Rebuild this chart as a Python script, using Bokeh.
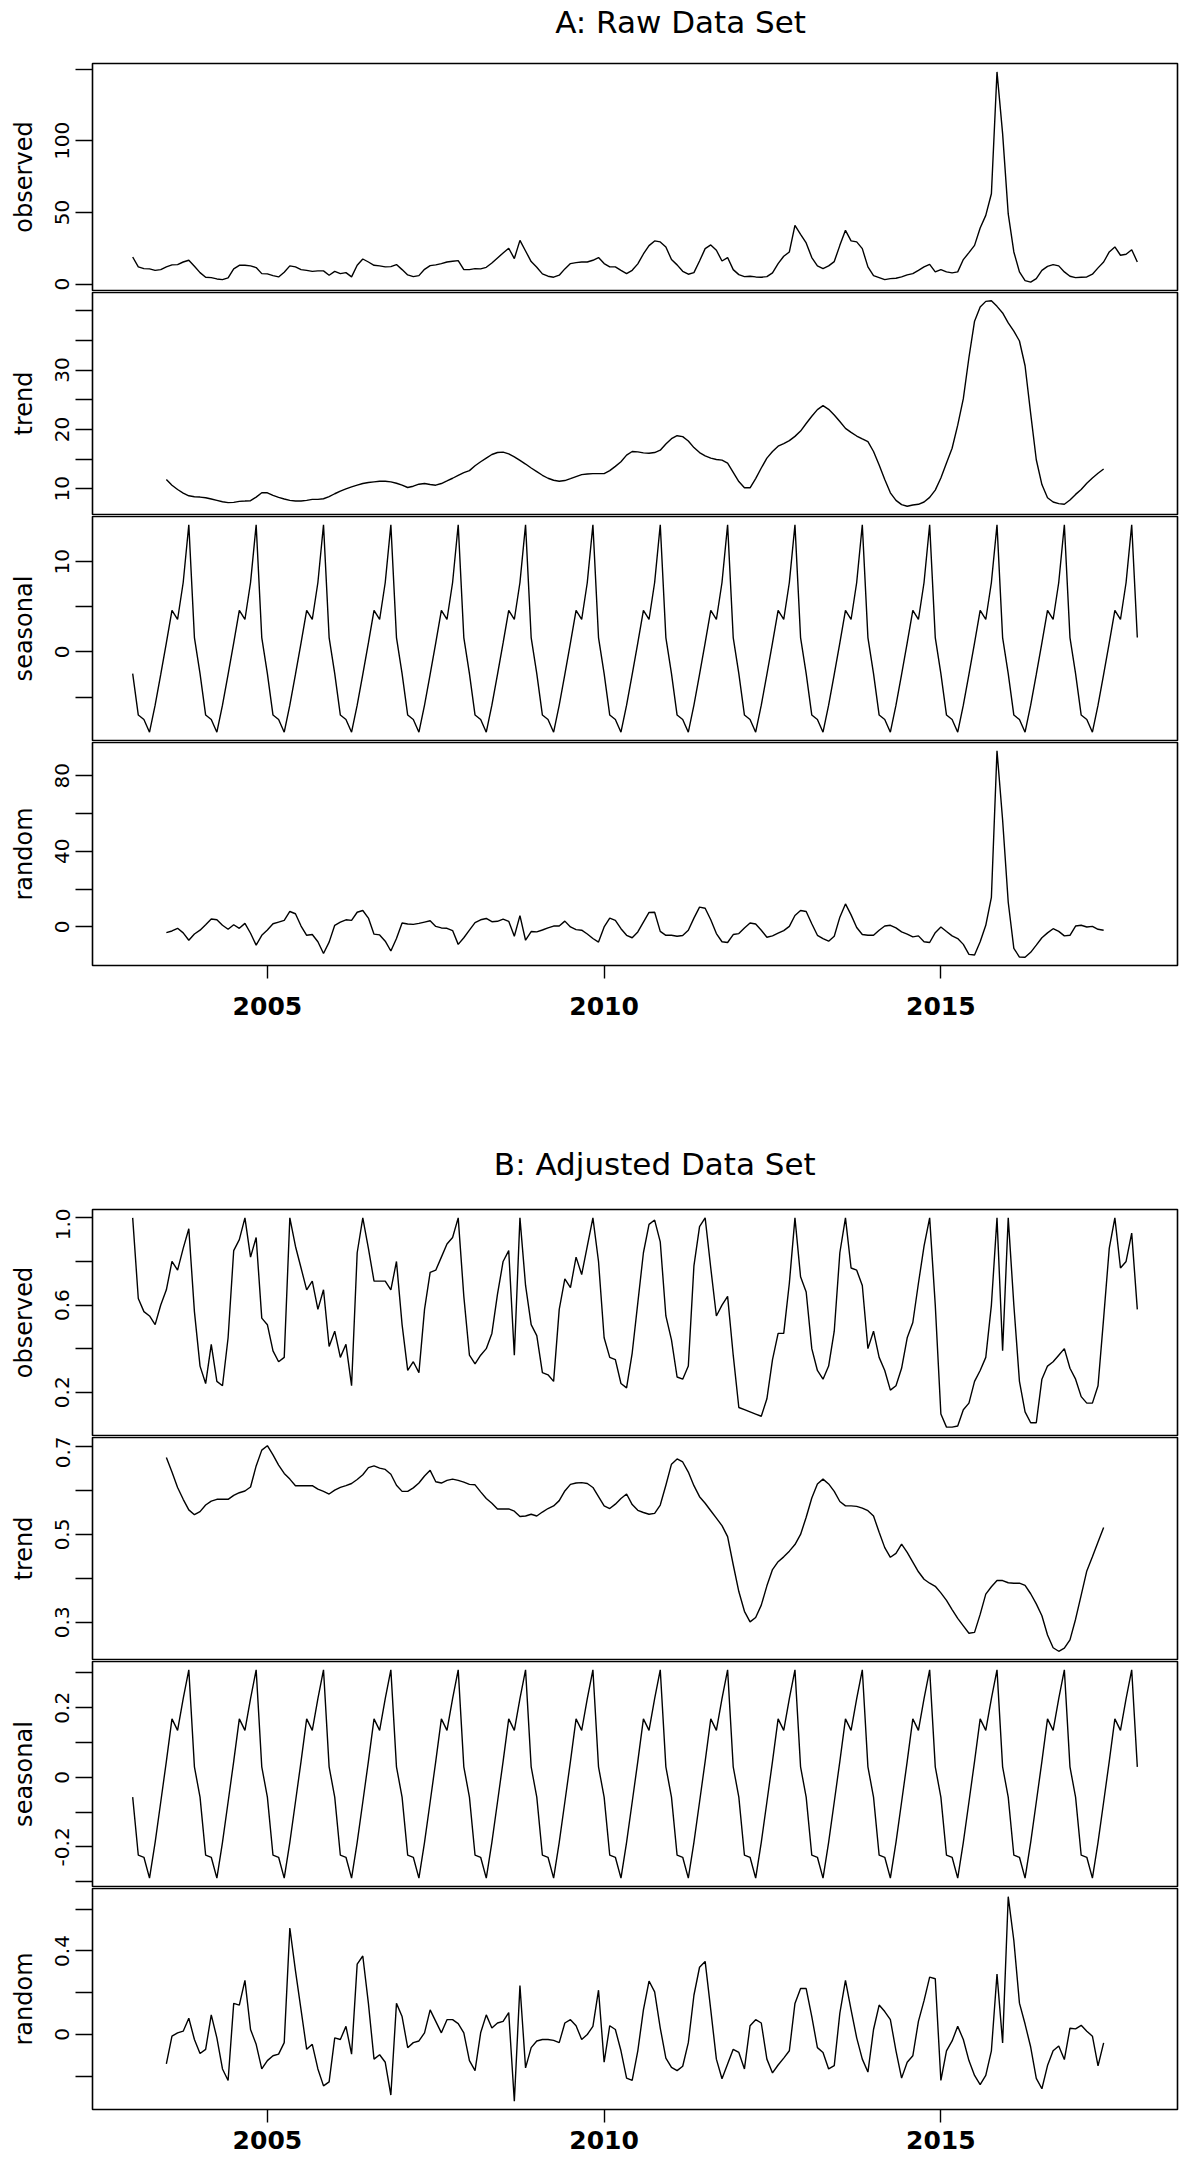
from bokeh.plotting import figure
from bokeh.models import Range1d, FixedTicker
from bokeh.core.properties import value
from bokeh.layouts import column
from bokeh.embed import file_html
from bokeh.resources import INLINE

# ---------------- data (monthly, Jan 2003 - Dec 2017) ----------------
START_YEAR = 2003.0
FREQ = 12
TREND_OFFSET = 6  # moving-average components start in July 2003

title_A = "A: Raw Data Set"
title_B = "B: Adjusted Data Set"

observed_A = [
    19.0, 12.1, 10.9, 10.7, 9.7, 10.2, 12.1, 13.5, 13.7, 15.5, 16.7, 12.5,
    8.1, 4.9, 4.6, 3.7, 3.2, 4.4, 10.7, 13.2, 13.2, 12.8, 11.6, 7.4,
    7.2, 6.0, 5.1, 8.4, 12.8, 12.1, 10.2, 9.7, 9.0, 9.3, 9.3, 6.3,
    9.0, 7.4, 8.1, 5.1, 13.2, 17.6, 15.5, 13.2, 12.8, 12.1, 12.3, 13.7,
    10.2, 6.5, 5.3, 6.0, 10.4, 13.0, 13.5, 14.4, 15.5, 16.0, 16.5, 10.2,
    10.2, 10.9, 10.7, 11.8, 14.8, 18.3, 21.8, 25.1, 17.9, 30.6, 23.2, 15.8,
    11.8, 7.2, 5.6, 4.9, 6.3, 10.7, 14.4, 15.1, 15.5, 15.5, 16.7, 18.6,
    14.4, 12.1, 12.1, 9.7, 7.4, 9.7, 14.2, 21.1, 26.9, 30.2, 29.5, 26.0,
    17.2, 13.5, 9.0, 7.0, 8.1, 16.2, 24.8, 27.4, 23.7, 16.2, 18.6, 10.2,
    6.7, 5.3, 5.6, 5.1, 4.9, 5.3, 7.9, 14.4, 19.5, 22.5, 41.0, 34.8,
    28.8, 18.6, 12.8, 10.9, 12.8, 15.8, 27.1, 37.6, 30.2, 29.5, 24.8, 12.1,
    6.0, 4.6, 3.2, 3.9, 4.2, 5.1, 6.5, 7.4, 9.7, 12.1, 13.9, 8.6,
    10.2, 8.6, 7.9, 8.6, 17.2, 22.0, 27.1, 39.2, 48.0, 63.1, 148.0, 105.0,
    49.0, 22.5, 8.6, 2.5, 1.5, 3.9, 9.7, 12.5, 13.7, 12.8, 8.6, 5.6,
    4.6, 4.9, 5.1, 7.0, 11.4, 15.5, 22.5, 26.0, 20.2, 20.9, 24.1, 15.5,
]

trend_A = [
    11.56, 10.61, 9.89, 9.28, 8.83, 8.67,
    8.61, 8.5, 8.28, 8.06, 7.83, 7.67, 7.72, 7.89, 7.94, 8.0, 8.61, 9.33,
    9.33, 8.89, 8.56, 8.28, 8.06, 7.94, 7.94, 8.06, 8.22, 8.22, 8.33, 8.67,
    9.17, 9.61, 10.0, 10.33, 10.61, 10.89, 11.06, 11.17, 11.28, 11.28, 11.17, 10.94,
    10.61, 10.22, 10.44, 10.78, 10.89, 10.72, 10.61, 10.89, 11.33, 11.78, 12.28, 12.72,
    13.06, 13.89, 14.56, 15.17, 15.78, 16.11, 16.17, 15.89, 15.39, 14.78, 14.17, 13.5,
    12.89, 12.28, 11.78, 11.44, 11.28, 11.39, 11.72, 12.06, 12.39, 12.5, 12.56, 12.56,
    12.56, 13.06, 13.78, 14.56, 15.67, 16.28, 16.22, 16.06, 16.0, 16.11, 16.5, 17.56,
    18.44, 18.94, 18.78, 18.06, 16.94, 16.11, 15.56, 15.17, 14.94, 14.83, 14.33, 12.78,
    11.22, 10.17, 10.17, 11.72, 13.5, 15.17, 16.28, 17.17, 17.61, 18.11, 18.83, 19.72,
    21.0, 22.22, 23.33, 24.0, 23.39, 22.44, 21.33, 20.17, 19.5, 18.89, 18.39, 17.94,
    16.28, 14.0, 11.56, 9.33, 8.06, 7.33, 7.06, 7.28, 7.39, 7.78, 8.56, 9.78,
    11.83, 14.33, 16.83, 20.72, 25.17, 32.11, 38.22, 40.61, 41.56, 41.67, 40.72, 39.61,
    37.94, 36.56, 34.89, 30.72, 22.67, 14.89, 10.72, 8.5, 7.78, 7.5, 7.39, 8.11,
    9.06, 9.89, 10.94, 11.83, 12.61, 13.33,
]

# seasonal figure (Jan..Dec), repeated every year by the decomposition
seasonal_A_figure = [-2.4, -7.0, -7.5, -8.9, -5.9, -2.5, 1.0, 4.6, 3.6, 7.7, 14.1, 1.6]
N_YEARS = 15

random_A = [
    -3.0, -2.1, -0.7, -3.1, -7.0, -3.7,
    -1.7, 1.2, 4.2, 3.8, 0.9, -1.2, 1.2, -0.7, 1.9, -3.3, -9.6, -4.4,
    -1.6, 1.7, 2.6, 3.5, 8.2, 7.0, 0.5, -4.4, -4.0, -7.8, -14.0, -8.0,
    0.9, 2.6, 3.8, 3.5, 7.8, 8.7, 4.7, -3.8, -4.2, -7.5, -12.7, -6.1,
    2.1, 1.6, 1.4, 1.9, 2.6, 3.3, 0.3, -0.5, -0.7, -1.9, -9.2, -5.7,
    -1.7, 2.3, 3.8, 4.5, 2.8, 3.0, 4.2, 3.0, -4.9, 6.0, -7.0, -2.4,
    -2.6, -1.6, -0.5, 0.5, 0.5, 3.1, 0.0, -1.4, -1.7, -3.7, -6.1, -8.0,
    0.0, 4.7, 3.5, -0.9, -4.4, -5.7, -2.6, 2.6, 7.7, 7.8, -2.3, -4.4,
    -4.4, -4.9, -4.5, -1.7, 4.7, 10.5, 9.9, 3.8, -3.5, -7.8, -8.2, -4.0,
    -3.5, -0.5, 2.1, 1.6, -1.7, -5.4, -4.7, -3.3, -1.9, 0.3, 6.1, 8.7,
    8.2, 1.7, -4.4, -6.1, -7.5, -4.9, 5.2, 12.2, 6.4, -0.3, -4.0, -4.4,
    -4.4, -1.7, 0.5, 0.9, -0.5, -2.6, -3.8, -5.2, -4.7, -7.8, -8.2, -3.0,
    0.0, -2.4, -4.7, -6.1, -9.2, -14.5, -14.8, -7.8, 0.9, 15.7, 93.2, 56.6,
    13.1, -11.3, -15.9, -16.0, -13.4, -9.6, -5.7, -3.1, -0.9, -2.3, -4.7, -4.4,
    0.5, 0.9, 0.0, 0.3, -1.2, -1.7,
]

observed_B = [
    1.0, 0.63, 0.57, 0.55, 0.51, 0.60, 0.67, 0.80, 0.76, 0.86, 0.95, 0.57,
    0.32, 0.24, 0.42, 0.25, 0.23, 0.45, 0.85, 0.90, 1.0, 0.82, 0.91, 0.54,
    0.51, 0.39, 0.34, 0.36, 1.0, 0.87, 0.77, 0.67, 0.71, 0.58, 0.67, 0.41,
    0.48, 0.36, 0.42, 0.23, 0.84, 1.0, 0.86, 0.71, 0.71, 0.71, 0.67, 0.80,
    0.51, 0.30, 0.34, 0.29, 0.58, 0.75, 0.76, 0.82, 0.88, 0.91, 1.0, 0.64,
    0.37, 0.33, 0.37, 0.40, 0.47, 0.65, 0.80, 0.85, 0.37, 1.0, 0.69, 0.51,
    0.46, 0.29, 0.28, 0.25, 0.58, 0.72, 0.68, 0.82, 0.74, 0.87, 1.0, 0.80,
    0.45, 0.36, 0.35, 0.24, 0.22, 0.38, 0.61, 0.84, 0.97, 0.99, 0.89, 0.55,
    0.44, 0.27, 0.26, 0.32, 0.78, 0.96, 1.0, 0.77, 0.55, 0.60, 0.64, 0.37,
    0.13, 0.12, 0.11, 0.10, 0.09, 0.17, 0.35, 0.47, 0.47, 0.70, 1.0, 0.73,
    0.66, 0.40, 0.30, 0.26, 0.32, 0.48, 0.84, 1.0, 0.77, 0.76, 0.69, 0.40,
    0.48, 0.36, 0.30, 0.21, 0.23, 0.31, 0.45, 0.52, 0.70, 0.87, 1.0, 0.60,
    0.10, 0.04, 0.04, 0.045, 0.12, 0.15, 0.25, 0.30, 0.36, 0.60, 1.0, 0.39,
    1.0, 0.60, 0.25, 0.11, 0.06, 0.06, 0.26, 0.32, 0.34, 0.37, 0.40, 0.31,
    0.26, 0.18, 0.15, 0.15, 0.23, 0.54, 0.86, 1.0, 0.77, 0.80, 0.93, 0.58,
]

trend_B = [
    0.675, 0.642, 0.607, 0.580, 0.556, 0.545,
    0.552, 0.567, 0.576, 0.580, 0.580, 0.580, 0.589, 0.595, 0.599, 0.608, 0.656, 0.692,
    0.702, 0.681, 0.658, 0.639, 0.626, 0.611, 0.611, 0.611, 0.611, 0.603, 0.598, 0.592,
    0.601, 0.607, 0.611, 0.616, 0.625, 0.636, 0.652, 0.656, 0.651, 0.648, 0.637, 0.612,
    0.598, 0.598, 0.606, 0.617, 0.633, 0.646, 0.620, 0.617, 0.623, 0.626, 0.623, 0.619,
    0.614, 0.613, 0.597, 0.582, 0.571, 0.558, 0.558, 0.558, 0.553, 0.541, 0.542, 0.546,
    0.542, 0.551, 0.559, 0.565, 0.577, 0.599, 0.614, 0.617, 0.618, 0.616, 0.607, 0.586,
    0.565, 0.559, 0.569, 0.582, 0.592, 0.568, 0.555, 0.550, 0.546, 0.548, 0.567, 0.612,
    0.660, 0.672, 0.665, 0.642, 0.611, 0.586, 0.571, 0.554, 0.537, 0.520, 0.495, 0.431,
    0.370, 0.325, 0.301, 0.311, 0.339, 0.383, 0.420, 0.438, 0.449, 0.462, 0.477, 0.500,
    0.539, 0.583, 0.615, 0.626, 0.615, 0.598, 0.575, 0.565, 0.565, 0.564, 0.560, 0.554,
    0.542, 0.505, 0.470, 0.448, 0.457, 0.478, 0.459, 0.437, 0.415, 0.398, 0.389, 0.382,
    0.367, 0.350, 0.329, 0.309, 0.292, 0.275, 0.277, 0.318, 0.364, 0.381, 0.395, 0.395,
    0.390, 0.389, 0.389, 0.384, 0.365, 0.342, 0.315, 0.271, 0.242, 0.234, 0.241, 0.260,
    0.307, 0.362, 0.417, 0.449, 0.483, 0.516,
]

seasonal_B_figure = [-0.057, -0.224, -0.23, -0.29, -0.187, -0.071,
                     0.046, 0.168, 0.135, 0.226, 0.309, 0.03]

random_B = [
    -0.141, -0.008, 0.008, 0.016, 0.078, -0.024,
    -0.091, -0.071, 0.094, -0.016, -0.165, -0.22, 0.149, 0.141, 0.259, 0.024, -0.047, -0.165,
    -0.125, -0.102, -0.094, -0.039, 0.51, 0.306, 0.118, -0.071, -0.047, -0.165, -0.246, -0.227,
    -0.016, -0.024, 0.039, -0.094, 0.337, 0.376, 0.149, -0.118, -0.097, -0.133, -0.29, 0.149,
    0.086, -0.063, -0.039, -0.031, 0.008, 0.118, 0.063, 0.008, 0.071, 0.071, 0.052, 0.008,
    -0.125, -0.173, 0.008, 0.094, 0.031, 0.055, 0.063, 0.105, -0.32, 0.235, -0.16, -0.063,
    -0.031, -0.024, -0.024, -0.028, -0.039, 0.055, 0.071, 0.042, -0.024, 0.0, 0.039, 0.212,
    -0.133, 0.042, 0.024, -0.078, -0.209, -0.22, -0.078, 0.118, 0.256, 0.204, 0.031, -0.113,
    -0.157, -0.173, -0.152, -0.039, 0.188, 0.322, 0.35, 0.118, -0.118, -0.212, -0.141, -0.071,
    -0.086, -0.165, 0.042, 0.071, 0.055, -0.118, -0.184, -0.146, -0.113, -0.078, 0.149, 0.22,
    0.22, 0.086, -0.063, -0.086, -0.165, -0.149, 0.102, 0.259, 0.118, -0.016, -0.118, -0.18,
    0.024, 0.141, 0.11, 0.071, -0.078, -0.209, -0.133, -0.102, 0.063, 0.162, 0.275, 0.267,
    -0.22, -0.078, -0.031, 0.039, -0.024, -0.125, -0.196, -0.24, -0.196, -0.078, 0.29, -0.04,
    0.66, 0.45, 0.15, 0.05, -0.06, -0.21, -0.26, -0.149, -0.078, -0.055, -0.12, 0.03,
    0.027, 0.044, 0.016, -0.008, -0.15, -0.04,
]

seasonal_A = seasonal_A_figure * N_YEARS
seasonal_B = seasonal_B_figure * N_YEARS

x_ticks = [2005, 2010, 2015]

# y-axis ticks: (labelled ticks, tick labels, unlabelled ticks)
ticks_A = {
    "observed": ([0, 50, 100], ["0", "50", "100"], [150]),
    "trend": ([10, 20, 30], ["10", "20", "30"], [15, 25, 35, 40]),
    "seasonal": ([0, 10], ["0", "10"], [-5, 5]),
    "random": ([0, 40, 80], ["0", "40", "80"], [20, 60]),
}
ticks_B = {
    "observed": ([0.2, 0.6, 1.0], ["0.2", "0.6", "1.0"], [0.4, 0.8]),
    "trend": ([0.3, 0.5, 0.7], ["0.3", "0.5", "0.7"], [0.4, 0.6]),
    "seasonal": ([-0.2, 0, 0.2], ["-0.2", "0", "0.2"], [-0.3, -0.1, 0.1, 0.3]),
    "random": ([0, 0.4], ["0", "0.4"], [-0.2, 0.2, 0.6]),
}

# ---------------- layout / styling ----------------
W = 1179
LEFT = 92
RIGHT = 2
FONT = "DejaVu Sans"


def times(n, offset=0):
    return [START_YEAR + (k + offset) / FREQ for k in range(n)]


n_all = len(observed_A)
t_all = times(n_all)
x_lo, x_hi = t_all[0], t_all[-1]
pad = 0.04 * (x_hi - x_lo)
x_range = Range1d(x_lo - pad, x_hi + pad)


def yr(vals):
    lo, hi = min(vals), max(vals)
    d = 0.04 * (hi - lo)
    return Range1d(lo - d, hi + d)


def header(text, height, cx, cy):
    h = figure(width=W, height=height, x_range=Range1d(0, W), y_range=Range1d(height, 0),
               output_backend="svg", toolbar_location=None,
               x_axis_location=None, y_axis_location=None, min_border=0)
    h.grid.visible = False
    h.outline_line_color = None
    h.text(x=[cx], y=[cy], text=[text], text_font=value(FONT), text_font_size="31px",
           text_align="center", text_baseline="middle", text_color="black")
    return h


def panel(ylab, xs, ys, tick_spec, height, top, bottom, show_x=False, x_standoff=17):
    p = figure(width=W, height=height, x_range=x_range, y_range=yr(ys),
               output_backend="svg", toolbar_location=None,
               x_axis_location="below" if show_x else None,
               min_border_left=LEFT, min_border_right=RIGHT,
               min_border_top=top, min_border_bottom=bottom)
    p.grid.visible = False
    p.outline_line_color = "black"
    p.outline_line_width = 1.6
    p.outline_line_alpha = 1.0

    major, labels, minor = tick_spec
    ax = p.yaxis[0]
    ax.ticker = FixedTicker(ticks=major, minor_ticks=minor)
    ax.major_label_overrides = {t: s for t, s in zip(major, labels)}
    ax.major_label_orientation = "vertical"
    ax.axis_line_color = None
    ax.major_tick_out = 17
    ax.major_tick_in = 0
    ax.minor_tick_out = 17
    ax.minor_tick_in = 0
    ax.major_tick_line_color = "black"
    ax.minor_tick_line_color = "black"
    ax.major_tick_line_width = 1.4
    ax.minor_tick_line_width = 1.4
    ax.major_label_standoff = 6
    ax.major_label_text_font = FONT
    ax.major_label_text_font_size = "20px"
    ax.major_label_text_color = "black"
    ax.axis_label = ylab
    ax.axis_label_text_font = FONT
    ax.axis_label_text_font_size = "24px"
    ax.axis_label_text_font_style = "normal"
    ax.axis_label_text_color = "black"
    ax.axis_label_standoff = 15

    if show_x:
        xa = p.xaxis[0]
        xa.ticker = FixedTicker(ticks=x_ticks, minor_ticks=[])
        xa.axis_line_color = None
        xa.major_tick_out = 13
        xa.major_tick_in = 0
        xa.major_tick_line_color = "black"
        xa.major_tick_line_width = 1.4
        xa.major_label_standoff = x_standoff
        xa.major_label_text_font = FONT
        xa.major_label_text_font_size = "25px"
        xa.major_label_text_font_style = "bold"
        xa.major_label_text_color = "black"

    p.line(xs, ys, line_color="black", line_width=1.4)
    return p


t_mid = times(len(trend_A), TREND_OFFSET)

# Section A
hA_head = header(title_A, 62, 639, 21)
hA = [229, 224, 226, 294]
bA = [(1, 1), (1, 1), (1, 1), (1, 70)]
pA1 = panel("observed", t_all, observed_A, ticks_A["observed"], hA[0], *bA[0])
pA2 = panel("trend", t_mid, trend_A, ticks_A["trend"], hA[1], *bA[1])
pA3 = panel("seasonal", t_all, seasonal_A, ticks_A["seasonal"], hA[2], *bA[2])
pA4 = panel("random", t_mid, random_A, ticks_A["random"], hA[3], *bA[3],
            show_x=True, x_standoff=18)

# Section B
hB_head = header(title_B, 173, 611, 128)
hB = [228, 224, 227, 274]
bB = [(1, 1), (1, 1), (1, 1), (1, 52)]
pB1 = panel("observed", t_all, observed_B, ticks_B["observed"], hB[0], *bB[0])
pB2 = panel("trend", t_mid, trend_B, ticks_B["trend"], hB[1], *bB[1])
pB3 = panel("seasonal", t_all, seasonal_B, ticks_B["seasonal"], hB[2], *bB[2])
pB4 = panel("random", t_mid, random_B, ticks_B["random"], hB[3], *bB[3],
            show_x=True, x_standoff=8)

layout = column(hA_head, pA1, pA2, pA3, pA4, hB_head, pB1, pB2, pB3, pB4, spacing=0)

open("out.html", "w").write(file_html(layout, INLINE))
